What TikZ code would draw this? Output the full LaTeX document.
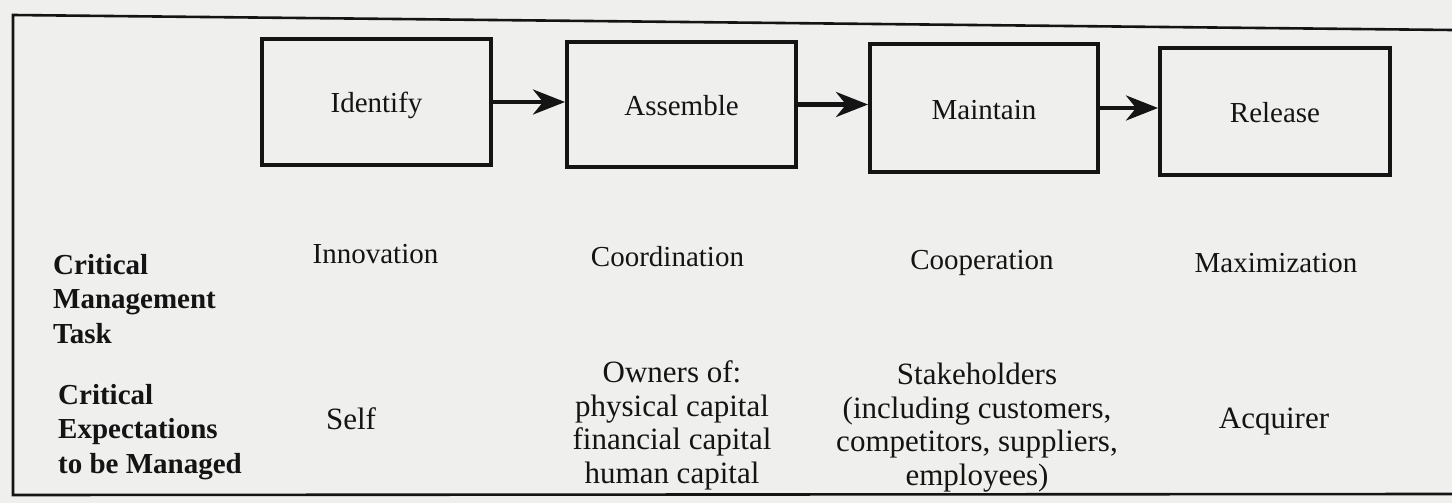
\documentclass[tikz,border=0pt]{standalone}
\usepackage{fontspec}
\setmainfont{Liberation Serif}
\usetikzlibrary{arrows.meta}
\definecolor{paper}{RGB}{239,239,238}
\definecolor{ink}{RGB}{20,20,20}
\tikzset{
  stagebox/.style={draw=ink, line width=4pt, minimum width=229pt, minimum height=126pt, inner sep=0pt,
    font=\fontsize{29}{33}\selectfont, text height=25pt, text depth=3pt},
  flow/.style={draw=ink, line width=4pt, -{Stealth[length=32pt,width=25pt,inset=10pt]}},
  frame/.style={draw=ink, line width=2.6pt},
  rowlabel/.style={anchor=base west, align=left, inner sep=0pt, text=ink,
    font=\fontsize{29}{34.5}\selectfont\bfseries},
  task/.style={anchor=base, inner sep=0pt, text=ink, font=\fontsize{29}{33}\selectfont},
  expect/.style={anchor=base, align=center, inner sep=0pt, text=ink, font=\fontsize{31}{33.5}\selectfont},
}
\begin{document}
\begin{tikzpicture}[x=1pt,y=-1pt]
\useasboundingbox[fill=paper] (0,0) rectangle (1452,503);
% frame
\coordinate (ftl) at (13,15);
\coordinate (ftr) at (1452,30);
\coordinate (fbl) at (13,495);
\coordinate (fbr) at (1452,494);
\draw[frame] (ftr) -- (ftl) -- (fbl) -- (fbr);
% stage boxes
\node[stagebox, text=ink] (identify) at (376.5,102) {Identify};
\node[stagebox, text=ink, minimum height=125pt] (assemble) at (681.5,104.5) {Assemble};
\node[stagebox, text=ink, minimum width=228pt, minimum height=128pt] (maintain) at (984,108) {Maintain};
\node[stagebox, text=ink, minimum width=230pt, minimum height=127pt] (release) at (1275,111.5) {Release};
\draw[flow] (identify.east) -- (identify.east -| assemble.west);
\draw[flow] (assemble.east) -- (assemble.east -| maintain.west);
\draw[flow] (maintain.east) -- (maintain.east -| release.west);
% row labels (anchor = baseline of last line)
\node[rowlabel] (lbltask) at (53,343) {Critical\\Management\\Task};
\node[rowlabel] (lblexp) at (58,473) {Critical\\Expectations\\to be Managed};
% tasks
\node[task] (innov) at (375.5,263) {Innovation};
\node[task] (coord) at (667.5,266) {Coordination};
\node[task] (coop) at (982,269) {Cooperation};
\node[task] (maxim) at (1276,272) {Maximization};
% expectations
\node[expect] (self) at (351,429) {Self};
\node[expect] (owners) at (672,483) {Owners of:\\physical capital\\financial capital\\human capital};
\node[expect] (stake) at (977,485) {Stakeholders\\(including customers,\\competitors, suppliers,\\employees)};
\node[expect] (acq) at (1274,428) {Acquirer};
\end{tikzpicture}
\end{document}
